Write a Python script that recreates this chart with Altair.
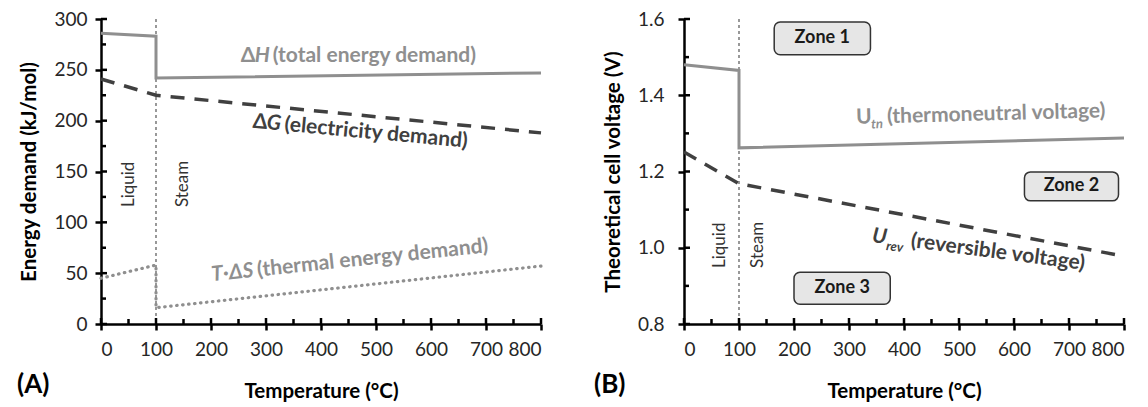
import altair as alt
import pandas as pd

FONT = "Lato"
GRAY = "#8f8f8f"
DARK = "#404040"

# ---------------- data: panel A (energy demand, kJ/mol) ----------------
dh_T = [0, 100, 100, 800]
dh_v = [286, 283, 242, 247]
dg_T = [0, 100, 800]
dg_v = [241, 225, 188]
tds_T = [0, 100, 100, 800]
tds_v = [45, 58, 16, 57]

# ---------------- data: panel B (theoretical cell voltage, V) ----------------
utn_T = [0, 100, 100, 800]
utn_v = [1.480, 1.465, 1.262, 1.288]
urev_T = [0, 100, 800]
urev_v = [1.251, 1.168, 0.978]

# tick values
x_major = [0, 100, 200, 300, 400, 500, 600, 700, 800]
x_minor = [50, 150, 250, 350, 450, 550, 650, 750]
a_major = [0, 50, 100, 150, 200, 250, 300]
a_minor = [25, 75, 125, 175, 225, 275]
b_major = [0.8, 1.0, 1.2, 1.4, 1.6]
b_minor = [0.9, 1.1, 1.3, 1.5]

phase_T = [100]
phase_labels = ["Liquid", "Steam"]

# zone boxes (panel B)
zone_names = ["Zone 1", "Zone 2", "Zone 3"]
zone_x0 = [164, 619, 200]
zone_x1 = [339, 790, 375]
zone_y0 = [1.506, 1.123, 0.852]
zone_y1 = [1.592, 1.199, 0.936]

W, H = 440, 305


def make_panel(ydomain, yticks, yminor, ytitle, label_pad_y, lines, pieces,
               phase_pos, panel_label, label_x, zones=None):
    xs = alt.Scale(domain=[0, 800], nice=False, zero=False)
    ys = alt.Scale(domain=ydomain, nice=False, zero=False)
    xaxis = alt.Axis(values=x_major, title="Temperature (°C)", grid=False,
                     labelPadding=10, titlePadding=22, format="d")
    yaxis = alt.Axis(values=yticks, title=ytitle, grid=False,
                     labelPadding=label_pad_y, titlePadding=14,
                     format=("d" if ydomain[1] > 10 else ".1f"))

    def X(f):
        return alt.X(f, type="quantitative", scale=xs, axis=xaxis)

    def Y(f):
        return alt.Y(f, type="quantitative", scale=ys, axis=yaxis)

    layers = []
    # phase separator
    sep = alt.Chart(pd.DataFrame({"T": phase_T})).mark_rule(
        color="#555555", strokeWidth=1.2, strokeDash=[3, 3]
    ).encode(x=X("T"), y=alt.value(0), y2=alt.value(H))
    layers.append(sep)

    if zones is not None:
        zdf = pd.DataFrame({"name": zone_names, "x0": zone_x0, "x1": zone_x1,
                            "y0": zone_y0, "y1": zone_y1})
        zdf["xc"] = (zdf["x0"] + zdf["x1"]) / 2
        zdf["yc"] = (zdf["y0"] + zdf["y1"]) / 2
        layers.append(alt.Chart(zdf).mark_rect(
            fill="#e6e6e6", stroke="#333333", strokeWidth=1.5, cornerRadius=6
        ).encode(x=X("x0"), x2="x1", y=Y("y0"), y2="y1"))
        layers.append(alt.Chart(zdf).mark_text(
            font=FONT, fontSize=18, fontWeight="bold", color="#1a1a1a",
            align="center", baseline="middle"
        ).encode(x=X("xc"), y=Y("yc"), text="name:N"))

    # data lines
    for T, v, color, dash, width, cap in lines:
        df = pd.DataFrame({"T": T, "v": v, "o": list(range(len(T)))})
        mk = dict(color=color, strokeWidth=width, strokeCap=cap)
        if dash:
            mk["strokeDash"] = dash
        layers.append(alt.Chart(df).mark_line(**mk).encode(
            x=X("T"), y=Y("v"), order="o:Q"))

    # inside tick halves + minor ticks
    for vals, ln in [(x_major, 6), (x_minor, 5)]:
        layers.append(alt.Chart(pd.DataFrame({"t": vals})).mark_rule(
            color="black", strokeWidth=2.5
        ).encode(x=X("t"), y=alt.value(H), y2=alt.value(H - ln)))
    for vals, ln in [(yticks, 6), (yminor, 5)]:
        layers.append(alt.Chart(pd.DataFrame({"t": vals})).mark_rule(
            color="black", strokeWidth=2.5
        ).encode(y=Y("t"), x=alt.value(0), x2=alt.value(ln)))

    # phase labels
    pdf = pd.DataFrame({"T": phase_pos[0], "v": phase_pos[1], "lab": phase_labels})
    layers.append(alt.Chart(pdf).mark_text(
        font=FONT, fontSize=17, color="#333333", angle=270,
        align="left", baseline="middle"
    ).encode(x=X("T"), y=Y("v"), text="lab:N"))

    # annotation text pieces
    for (txt, ax, ay, ang, dx, dy, size, italic, color) in pieces:
        props = dict(font=FONT, fontSize=size, fontWeight="bold", color=color,
                     align="left", baseline="alphabetic", angle=ang, dx=dx, dy=dy)
        if italic:
            props["fontStyle"] = "italic"
        layers.append(alt.Chart(pd.DataFrame({"T": [ax], "v": [ay], "s": [txt]})
                                ).mark_text(**props).encode(
            x=X("T"), y=Y("v"), text="s:N"))

    # panel label
    layers.append(alt.Chart(pd.DataFrame({"p": [panel_label]})).mark_text(
        font=FONT, fontSize=26, fontWeight="bold", color="black",
        align="left", baseline="middle"
    ).encode(x=alt.value(label_x), y=alt.value(H + 61), text="p:N"))

    return alt.layer(*layers).properties(width=W, height=H)


lines_a = [
    (dh_T, dh_v, GRAY, None, 3, "butt"),
    (dg_T, dg_v, DARK, [14, 10], 3.5, "butt"),
    (tds_T, tds_v, GRAY, [0.5, 5.5], 3.2, "round"),
]
pieces_a = [
    ("Δ", 254, 257.5, 0, 0, 0, 21, False, GRAY),
    ("H", 254, 257.5, 0, 14, 0, 21, True, GRAY),
    ("(total energy demand)", 254, 257.5, 0, 32, 0, 21, False, GRAY),
    ("Δ", 275, 193, 5.3, 0, 0, 21, False, DARK),
    ("G", 275, 193, 5.3, 14, 0, 21, True, DARK),
    ("(electricity demand)", 275, 193, 5.3, 32, 0, 21, False, DARK),
    ("T·ΔS", 202, 42, 354, 0, 0, 21, True, GRAY),
    ("(thermal energy demand)", 202, 42, 354, 46, 0, 21, False, GRAY),
]
lines_b = [
    (utn_T, utn_v, GRAY, None, 3, "butt"),
    (urev_T, urev_v, DARK, [14, 10], 3.5, "butt"),
]
pieces_b = [
    ("U", 313, 1.325, 358.5, 0, 0, 21, False, GRAY),
    ("tn", 313, 1.325, 358.5, 15, 5, 13, True, GRAY),
    ("(thermoneutral voltage)", 313, 1.325, 358.5, 31, 0, 21, False, GRAY),
    ("U", 341, 1.015, 7.5, 0, 0, 21, True, DARK),
    ("rev", 341, 1.015, 7.5, 15, 6, 13, True, DARK),
    ("(reversible voltage)", 341, 1.015, 7.5, 39, 0, 21, False, DARK),
]

panel_a = make_panel([0, 300], a_major, a_minor, "Energy demand (kJ/mol)", 8,
                     lines_a, pieces_a, ([51, 149], [115, 115]), "(A)", -84)
panel_b = make_panel([0.8, 1.6], b_major, b_minor, "Theoretical cell voltage (V)", 14,
                     lines_b, pieces_b, ([66, 135], [0.947, 0.947]), "(B)", -90,
                     zones=True)

chart = alt.hconcat(panel_a, panel_b, spacing=46).configure_view(
    stroke=None
).configure_axis(
    labelFont=FONT, labelFontSize=19, labelColor="#262626",
    titleFont=FONT, titleFontSize=20.5, titleFontWeight="bold", titleColor="black",
    domainColor="black", domainWidth=2.5, tickColor="black", tickWidth=2.5,
    tickSize=6
).properties(padding={"left": 9, "top": 2, "right": 5, "bottom": 0})

chart.save("out.html", embed_options={"renderer": "svg", "actions": False})
